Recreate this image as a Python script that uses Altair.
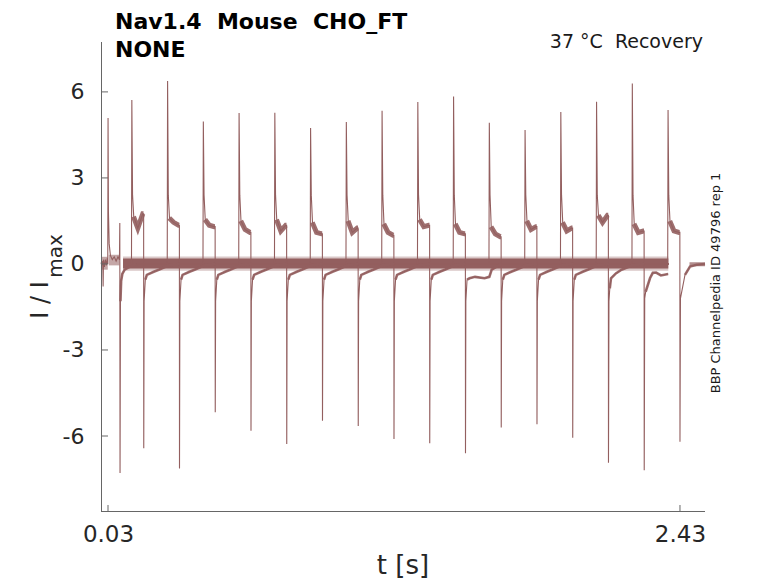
import altair as alt
import pandas as pd

C = "#935f5f"
FONT = "DejaVu Sans"
AX = "#666666"

# ---------------- values ----------------
pulse_start = [0.13, 0.28, 0.43, 0.58, 0.73, 0.88, 1.03, 1.18,
               1.33, 1.48, 1.63, 1.78, 1.93, 2.08, 2.23, 2.38]
pulse_len = 0.05
sweep_end = [2.381] * 15 + [2.535]
peak_pos = [5.72, 6.38, 4.97, 5.26, 5.27, 4.74, 4.95, 5.34,
            5.65, 5.84, 4.92, 4.67, 5.30, 5.66, 6.29, 5.37]
peak_neg = [-6.43, -7.13, -5.17, -5.82, -6.28, -5.47, -5.65, -6.10,
            -6.25, -6.60, -5.70, -5.59, -6.06, -6.93, -7.19, -6.20]
plat_a = [1.65, 1.60, 1.55, 1.50, 1.55, 1.45, 1.50, 1.40,
          1.55, 1.40, 1.30, 1.50, 1.45, 1.70, 1.40, 1.50]
plat_b = [1.25, 1.45, 1.35, 1.20, 1.15, 1.10, 1.10, 1.10,
          1.30, 1.10, 1.05, 1.20, 1.15, 1.45, 1.10, 1.15]
plat_c = [1.75, 1.35, 1.30, 1.10, 1.35, 1.05, 1.25, 1.00,
          1.35, 1.05, 0.95, 1.30, 1.25, 1.70, 1.15, 1.10]

# recovery after the end of the test pulse (time after pulse end, value)
rec_dt = [0.0015, 0.0065, 0.013, 0.042, 0.063, 0.105, 0.15]
rec_v = [-1.3, -0.55, -0.38, -0.27, -0.20, -0.05, 0.0]
rec_special = {
    9: ([0.0015, 0.0065, 0.017, 0.04, 0.08, 0.10, 0.11, 0.15],
        [-1.3, -0.55, -0.50, -0.45, -0.50, -0.45, -0.20, 0.0]),
    13: ([0.002, 0.0055, 0.0105, 0.031, 0.055, 0.10, 0.15],
         [-1.3, -0.85, -0.50, -0.33, -0.20, -0.05, 0.0]),
    14: ([0.002, 0.006, 0.0245, 0.036, 0.05, 0.07, 0.10],
         [-1.2, -0.97, -0.49, -0.31, -0.30, -0.40, -0.35]),
    15: ([0.002, 0.021, 0.042, 0.07, 0.105],
         [-1.2, -0.38, -0.09, -0.03, 0.0]),
}

# first (conditioning) pulse, common to all sweeps
first_t = [0.0006, 0.004, 0.008, 0.0095, 0.011, 0.015, 0.019, 0.023, 0.027,
           0.029, 0.0302, 0.0318, 0.035, 0.040, 0.048, 0.056, 0.064, 0.072,
           0.078, 0.0795, 0.0805, 0.0822, 0.085, 0.090, 0.100, 0.120, 0.150]
first_v = [0.05, -0.05, 0.10, -0.79, 0.15, -0.10, 0.15, -0.05, 0.20,
           0.00, 5.09, 1.80, 0.70, 0.30, 0.15, 0.25, 0.10, 0.25,
           0.15, 1.43, -7.29, -1.30, -0.60, -0.35, -0.20, -0.10, 0.0]

# noisy baseline bands (start, end, low, high, opacity)
band_start = [0.0006, 0.033, 0.093, 0.093, 2.47]
band_end = [0.029, 0.078, 2.381, 2.381, 2.535]
band_lo = [-0.20, -0.05, -0.24, -0.16, -0.08]
band_hi = [0.25, 0.32, 0.26, 0.19, 0.06]
band_op = [0.55, 0.55, 0.35, 1.0, 0.7]

y_ticks = [-6, -3, 0, 3, 6]
x_ticks = [0.03, 2.43]

# ---------------- build tables ----------------
thin, plat, rec = [], [], []


def add(rows, s, pts):
    for i, (t, v) in enumerate(pts):
        rows.append({"s": s, "i": i, "t": t, "v": v})


add(thin, "first", list(zip(first_t, first_v)))
add(rec, "first", list(zip(first_t[21:], first_v[21:])))

for k in range(16):
    t0 = pulse_start[k]
    te = t0 + pulse_len
    dts, vs = rec_special.get(k, (rec_dt, rec_v))
    pts = [(0.15, 0.0), (t0 - 0.0015, 0.0), (t0, peak_pos[k]), (t0 + 0.003, 2.4),
           (t0 + 0.008, plat_a[k]), (t0 + 0.025, plat_b[k]), (t0 + 0.046, plat_c[k]),
           (te - 0.0005, plat_c[k]), (te, peak_neg[k])]
    rpts = [(te + d, v) for d, v in zip(dts, vs)]
    pts += rpts
    if te + dts[-1] < sweep_end[k] - 1e-6:
        pts.append((sweep_end[k], vs[-1]))
    add(thin, f"s{k}", pts)
    add(plat, f"s{k}", [(t0 + 0.007, plat_a[k]), (t0 + 0.025, plat_b[k]),
                        (t0 + 0.046, plat_c[k]), (te - 0.001, plat_c[k])])
    add(rec, f"s{k}", rpts[1:])

band_rows = []
for j in range(len(band_start)):
    for t in (band_start[j], band_end[j]):
        band_rows.append({"s": j, "t": t, "lo": band_lo[j], "hi": band_hi[j],
                          "op": band_op[j]})

thin_df = pd.DataFrame(thin)
plat_df = pd.DataFrame(plat)
rec_df = pd.DataFrame(rec)
band_df = pd.DataFrame(band_rows)

# ---------------- scales & axes ----------------
xs = alt.Scale(domain=[0.0006, 2.535], nice=False, zero=False)
ys = alt.Scale(domain=[-8.65, 7.74], nice=False, zero=False)
xaxis = alt.Axis(values=x_ticks, format=".2f", tickSize=0, labelPadding=11,
                 labelFontSize=23, labelFont=FONT, labelColor="#262626",
                 domain=False, grid=False, title=None, labelFlush=False)
yaxis = alt.Axis(values=y_ticks, tickSize=0, labelPadding=17,
                 labelExpr="datum.value < 0 ? '-' + abs(datum.value) : '' + datum.value",
                 labelFontSize=22, labelFont=FONT, labelColor="#262626",
                 domain=False, grid=False, title=None)

X = alt.X("t:Q", scale=xs, axis=xaxis)

band = alt.Chart(band_df).mark_area(color=C).encode(
    x=X, y=alt.Y("lo:Q", scale=ys, axis=yaxis), y2="hi:Q", detail="s:N",
    opacity=alt.Opacity("op:Q", scale=None))

thin_l = alt.Chart(thin_df).mark_line(color=C, strokeWidth=1.1).encode(
    x=X, y=alt.Y("v:Q", scale=ys, axis=yaxis), detail="s:N", order="i:Q")

plat_l = alt.Chart(plat_df).mark_line(color=C, strokeWidth=5, opacity=0.9).encode(
    x=X, y=alt.Y("v:Q", scale=ys, axis=yaxis), detail="s:N", order="i:Q")

rec_l = alt.Chart(rec_df).mark_line(color=C, strokeWidth=2.6, opacity=0.9).encode(
    x=X, y=alt.Y("v:Q", scale=ys, axis=yaxis), detail="s:N", order="i:Q")

ytick_l = alt.Chart(pd.DataFrame({"v": y_ticks})).mark_rule(
    color=AX, strokeWidth=1).encode(
    y=alt.Y("v:Q", scale=ys, axis=yaxis), x=alt.value(0), x2=alt.value(7))

xtick_l = alt.Chart(pd.DataFrame({"t": x_ticks})).mark_rule(
    color=AX, strokeWidth=1).encode(
    x=X, y=alt.value(470), y2=alt.value(463))

yline = alt.Chart(pd.DataFrame({"a": [0]})).mark_rule(color=AX, strokeWidth=1).encode(
    x=alt.value(0.5), y=alt.value(0), y2=alt.value(470))
xline = alt.Chart(pd.DataFrame({"a": [0]})).mark_rule(color=AX, strokeWidth=1).encode(
    x=alt.value(0), x2=alt.value(604), y=alt.value(469.5))


def label(txt, x, y, size, weight="normal", align="left", baseline="alphabetic",
          angle=0, color="#000000"):
    return alt.Chart(pd.DataFrame({"txt": [txt]})).mark_text(
        align=align, baseline=baseline, fontSize=size, fontWeight=weight,
        font=FONT, angle=angle, color=color).encode(
        text="txt:N", x=alt.value(x), y=alt.value(y))


texts = [
    label("Nav1.4\u00a0 Mouse\u00a0 CHO_FT", 14, -13, 22, weight="bold"),
    label("NONE", 14, 15, 22, weight="bold"),
    label("37 °C\u00a0 Recovery", 602, 6, 19, align="right", color="#1a1a1a"),
    label("BBP Channelpedia ID 49796 rep 1", 615, 241, 13, align="center",
          baseline="middle", angle=270, color="#1a1a1a"),
    label("t [s]", 302, 532, 26, align="center", color="#262626"),
    label("I / I", -53, 258, 24, align="center", angle=270, color="#262626"),
    label("max", -39, 214, 20, align="center", angle=270, color="#262626"),
]

chart = alt.layer(band, thin_l, plat_l, rec_l, ytick_l, xtick_l, yline, xline,
                  *texts).properties(
    width=604, height=470,
    autosize=alt.AutoSizeParams(type="none"),
    padding={"left": 93, "top": 34, "right": 65, "bottom": 71},
).configure_view(strokeWidth=0)

chart.save("out.html", embed_options={"renderer": "svg", "actions": False})
